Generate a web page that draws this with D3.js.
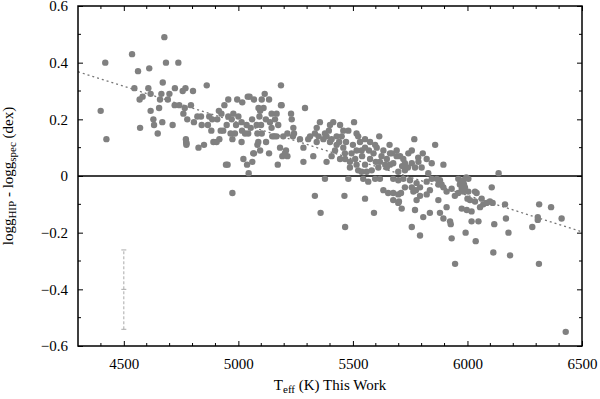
<!DOCTYPE html>
<html>
<head>
<meta charset="utf-8">
<script src="https://cdn.jsdelivr.net/npm/d3@7"></script>
<style>
  body { margin: 0; background: #fff; }
</style>
</head>
<body>
<svg id="chart" width="600" height="399"></svg>
<script>
var SERIF = "'Liberation Serif', 'Times New Roman', Times, 'DejaVu Serif', serif";

// x ticks / y ticks
var XTICKS = [4500, 5000, 5500, 6000, 6500];
var YTICKS = [-0.6, -0.4, -0.2, 0, 0.2, 0.4, 0.6];
var XDOMAIN = [4300, 6500];
var YDOMAIN = [-0.6, 0.6];

// linear fit (dotted line), end points
var FIT_T = [4300, 6500];
var FIT_D = [0.368, -0.197];

// typical error bar
var ERR_T = 4500;
var ERR_D = [-0.541, -0.40, -0.261];

// Teff (K), logg_HIP - logg_spec (dex)
var STARS = [
  [4419,0.40],[4399,0.23],[4424,0.13],
  [4536,0.43],[4562,0.37],[4546,0.31],[4582,0.28],[4569,0.27],[4571,0.17],
  [4611,0.38],[4607,0.31],[4617,0.29],[4617,0.23],[4629,0.20],[4632,0.18],[4648,0.15],[4654,0.24],[4658,0.27],[4664,0.29],[4668,0.19],[4670,0.33],
  [4677,0.49],[4684,0.40],[4692,0.27],[4699,0.29],[4713,0.18],[4722,0.25],[4723,0.31],[4738,0.40],[4742,0.25],
  [4757,0.30],[4760,0.22],[4766,0.24],[4769,0.31],[4777,0.20],[4793,0.25],[4802,0.30],[4806,0.19],[4821,0.21],
  [4771,0.13],[4772,0.12],[4773,0.11],[4774,0.115],[4826,0.10],[4850,0.11],[4862,0.32],
  [4837,0.21],[4873,0.21],[4886,0.20],[4915,0.23],[4926,0.22],[4939,0.25],[4908,0.20],[4956,0.21],[4978,0.22],[4971,0.20],
  [4840,0.18],[4867,0.18],[4882,0.16],[4934,0.16],[4949,0.18],[4990,0.18],[5014,0.19],[5036,0.18],[5054,0.17],[5080,0.18],
  [5099,0.18],[5092,0.21],[5095,0.23],[5145,0.22],[5167,0.22],[5138,0.19],[5174,0.18],[5145,0.17],[5189,0.25],[5230,0.22],[5233,0.20],
  [4956,0.27],[4995,0.27],[5017,0.26],[5041,0.28],[5049,0.28],[5068,0.27],[5102,0.27],[5134,0.27],[5115,0.29],[5186,0.32],[5088,0.24],
  [4891,0.12],[4905,0.12],[4917,0.13],[4923,0.16],[4966,0.15],[4974,0.13],[5016,0.16],[5029,0.15],[5043,0.15],[5083,0.15],
  [5102,0.15],[5014,0.12],[5087,0.12],[5083,0.11],[5095,0.09],[5121,0.12],[5167,0.14],[5148,0.14],[5157,0.14],[5196,0.14],
  [5214,0.15],[5243,0.15],[5068,0.08],[5134,0.08],[5182,0.10],[5208,0.09],[5214,0.07],[5192,0.07],
  [4946,0.04],[4953,0.04],[4974,-0.06],[5022,0.06],[5038,0.04],[5045,0.01],[5065,0.08],[5061,0.05],[5172,0.04],[5203,0.08],
  [5240,0.17],[5238,0.14],[5060,0.20],[5120,0.20],[5000,0.21],[5110,0.24],[5160,0.20],[4985,0.15],
  [5291,0.24],[5186,0.25],[5356,0.19],[5342,0.17],[5414,0.19],[5444,0.18],[5505,0.19],[5400,0.18],[5378,0.15],[5334,0.15],
  [5313,0.14],[5305,0.13],[5342,0.12],[5371,0.13],[5385,0.14],[5407,0.13],[5429,0.14],[5451,0.14],[5458,0.16],[5480,0.16],
  [5516,0.15],[5523,0.14],[5531,0.12],[5400,0.12],[5429,0.11],[5458,0.10],[5422,0.09],[5269,0.13],[5284,0.10],[5327,0.07],
  [5385,0.05],[5284,0.05],[5407,0.07],[5444,0.06],[5466,0.06],[5487,0.05],[5494,0.08],[5516,0.09],[5538,0.09],[5553,0.10],
  [5553,0.13],[5575,0.12],[5597,0.11],[5604,0.10],[5615,0.14],[5633,0.09],[5648,0.06],[5670,0.08],[5691,0.09],[5691,0.07],
  [5662,0.04],[5641,0.04],[5611,0.03],[5575,0.06],[5553,0.04],[5582,0.02],[5516,0.04],[5487,0.03],[5523,0.02],[5538,0.015],
  [5560,0.015],[5618,0.05],[5350,0.14],[5395,0.16],[5440,0.12],[5470,0.12],[5500,0.11],[5540,0.07],[5590,0.08],[5625,0.07],
  [5660,0.11],[5600,0.05],[5570,0.09],[5510,0.06],[5465,0.08],
  [5378,-0.01],[5480,-0.01],[5545,-0.01],[5567,-0.02],[5597,-0.01],[5618,-0.01],
  [5334,-0.07],[5463,-0.07],[5633,-0.05],[5654,-0.06],[5676,-0.06],[5698,-0.065],[5553,-0.08],
  [5768,0.13],[5859,0.11],[5805,0.08],[5822,0.06],[5844,0.045],[5895,0.04],[5662,0.08],[5706,0.07],[5720,0.06],[5742,0.08],
  [5757,0.09],[5727,0.045],[5757,0.045],[5771,0.03],[5786,0.05],[5800,0.03],[5676,0.045],[5648,0.03],[5698,0.015],[5727,0.02],
  [5829,0.01],[5740,0.03],[5785,0.065],[5715,0.035],
  [5676,-0.085],[5698,-0.095],[5713,-0.115],[5676,-0.01],[5698,-0.015],[5720,-0.01],[5749,-0.015],[5778,-0.025],[5793,-0.04],
  [5822,-0.02],[5844,-0.01],[5866,-0.01],[5880,-0.015],[5873,-0.03],[5887,-0.03],[5836,-0.05],[5822,-0.065],[5793,-0.07],
  [5764,-0.055],[5778,-0.085],[5873,-0.085],[5909,-0.055],[5931,-0.045],[5967,-0.03],[5982,-0.015],[6004,-0.01],[5989,-0.04],
  [6004,-0.055],[5982,-0.055],[6033,-0.055],[6011,-0.085],[5975,-0.115],[5997,-0.12],[6018,-0.125],[6033,-0.09],[5945,-0.07],
  [5757,-0.18],[5807,-0.145],[5836,-0.13],[5880,-0.13],[5895,-0.15],[5924,-0.16],[5927,-0.17],[5909,-0.11],[5771,-0.12],
  [6018,-0.16],[6048,-0.16],
  [5359,-0.13],[5466,-0.18],[5592,-0.13],[5701,-0.09],[5710,-0.06],[5727,-0.04],[5757,-0.04],[5775,-0.05],[5793,-0.21],
  [5960,-0.01],[5970,-0.02],[5985,-0.03],[5995,-0.005],[5975,-0.045],[5960,-0.06],[5895,-0.04],
  [6136,0.01],[6106,-0.04],[6040,-0.06],[6000,-0.08],[6062,-0.08],[6069,-0.10],[6098,-0.09],[6110,-0.095],[6084,-0.095],
  [6055,-0.11],[6164,-0.10],[6313,-0.10],[6365,-0.11],[6168,-0.15],[6307,-0.145],[6307,-0.155],[6411,-0.15],[6117,-0.17],
  [6283,-0.18],[5992,-0.20],[6179,-0.20],[6036,-0.23],[6113,-0.27],[6186,-0.28],[6312,-0.31],[6429,-0.55],[5946,-0.31],[5931,-0.22]
];

var W = 600, H = 399;
var MARGIN = {left: 78, right: 18, top: 6, bottom: 53};
var iw = W - MARGIN.left - MARGIN.right;
var ih = H - MARGIN.top - MARGIN.bottom;

var SVG = d3.select("#chart");
var G = SVG.append("g").attr("transform", "translate(" + MARGIN.left + "," + MARGIN.top + ")");

var x = d3.scaleLinear().domain(XDOMAIN).range([0, iw]);
var y = d3.scaleLinear().domain(YDOMAIN).range([ih, 0]);

var xMinor = d3.range(4400, 6500, 100).filter(function(v){ return XTICKS.indexOf(v) < 0; });
var yMinor = [-0.5, -0.3, -0.1, 0.1, 0.3, 0.5];

// major ticks (inward), labels bottom + left
G.append("g").attr("transform", "translate(0," + ih + ")")
  .call(d3.axisBottom(x).tickValues(XTICKS).tickSize(-5).tickPadding(12).tickFormat(d3.format("d")))
  .call(function(g){ g.select(".domain").remove(); });

G.append("g")
  .call(d3.axisLeft(y).tickValues(YTICKS).tickSize(-5).tickPadding(10)
    .tickFormat(function(d){ return d === 0 ? "0" : d3.format(".1f")(d); }))
  .call(function(g){ g.select(".domain").remove(); });

G.append("g")
  .call(d3.axisTop(x).tickValues(XTICKS).tickSize(-5).tickFormat(""))
  .call(function(g){ g.select(".domain").remove(); });
G.append("g").attr("transform", "translate(" + iw + ",0)")
  .call(d3.axisRight(y).tickValues(YTICKS).tickSize(-5).tickFormat(""))
  .call(function(g){ g.select(".domain").remove(); });

G.selectAll(".tick text").style("font-family", SERIF).style("font-size", "15px").attr("fill", "#000");
G.selectAll(".tick line").attr("stroke", "#000").attr("stroke-width", 1);

// minor ticks
var minorG = G.append("g").attr("stroke", "#000").attr("stroke-width", 1);
minorG.selectAll("line.xb").data(xMinor).enter().append("line")
  .attr("x1", function(d){ return x(d); }).attr("x2", function(d){ return x(d); })
  .attr("y1", ih).attr("y2", ih - 3);
minorG.selectAll("line.xt").data(xMinor).enter().append("line")
  .attr("x1", function(d){ return x(d); }).attr("x2", function(d){ return x(d); })
  .attr("y1", 0).attr("y2", 3);
minorG.selectAll("line.yl").data(yMinor).enter().append("line")
  .attr("y1", function(d){ return y(d); }).attr("y2", function(d){ return y(d); })
  .attr("x1", 0).attr("x2", 3);
minorG.selectAll("line.yr").data(yMinor).enter().append("line")
  .attr("y1", function(d){ return y(d); }).attr("y2", function(d){ return y(d); })
  .attr("x1", iw).attr("x2", iw - 3);

// zero line
G.append("line")
  .attr("x1", 0).attr("x2", iw)
  .attr("y1", y(0)).attr("y2", y(0))
  .attr("stroke", "#000").attr("stroke-width", 1.5);

// fit
G.append("line")
  .attr("x1", x(FIT_T[0])).attr("y1", y(FIT_D[0]))
  .attr("x2", x(FIT_T[1])).attr("y2", y(FIT_D[1]))
  .attr("stroke", "#777").attr("stroke-width", 1.3)
  .attr("stroke-dasharray", "2,3");

// error bar
var eg = G.append("g").attr("stroke", "#aaa").attr("stroke-width", 1);
eg.append("line")
  .attr("x1", x(ERR_T)).attr("x2", x(ERR_T))
  .attr("y1", y(ERR_D[0])).attr("y2", y(ERR_D[2]))
  .attr("stroke-dasharray", "3,2");
eg.selectAll("line.cap").data(ERR_D).enter().append("line")
  .attr("x1", x(ERR_T) - 2.5).attr("x2", x(ERR_T) + 2.5)
  .attr("y1", function(d){ return y(d); }).attr("y2", function(d){ return y(d); });

// points
G.append("g").selectAll("circle").data(STARS).enter().append("circle")
  .attr("cx", function(d){ return x(d[0]); })
  .attr("cy", function(d){ return y(d[1]); })
  .attr("r", 3.2)
  .attr("fill", "#808080");

// frame
G.append("rect")
  .attr("width", iw).attr("height", ih)
  .attr("fill", "none").attr("stroke", "#000").attr("stroke-width", 1.5);

// axis labels
var xl = SVG.append("text")
  .attr("x", MARGIN.left + iw / 2).attr("y", 390)
  .attr("text-anchor", "middle")
  .style("font-family", SERIF).style("font-size", "15px");
xl.append("tspan").text("T");
xl.append("tspan").attr("baseline-shift", "-25%").style("font-size", "11px").text("eff");
xl.append("tspan").text(" (K) This Work");

var yl = SVG.append("text")
  .attr("transform", "translate(13," + (MARGIN.top + ih / 2) + ") rotate(-90)")
  .attr("text-anchor", "middle")
  .style("font-family", SERIF).style("font-size", "15px");
yl.append("tspan").text("logg");
yl.append("tspan").attr("baseline-shift", "-25%").style("font-size", "11px").text("HIP");
yl.append("tspan").text(" - logg");
yl.append("tspan").attr("baseline-shift", "-25%").style("font-size", "11px").text("spec");
yl.append("tspan").text(" (dex)");
</script>
</body>
</html>
